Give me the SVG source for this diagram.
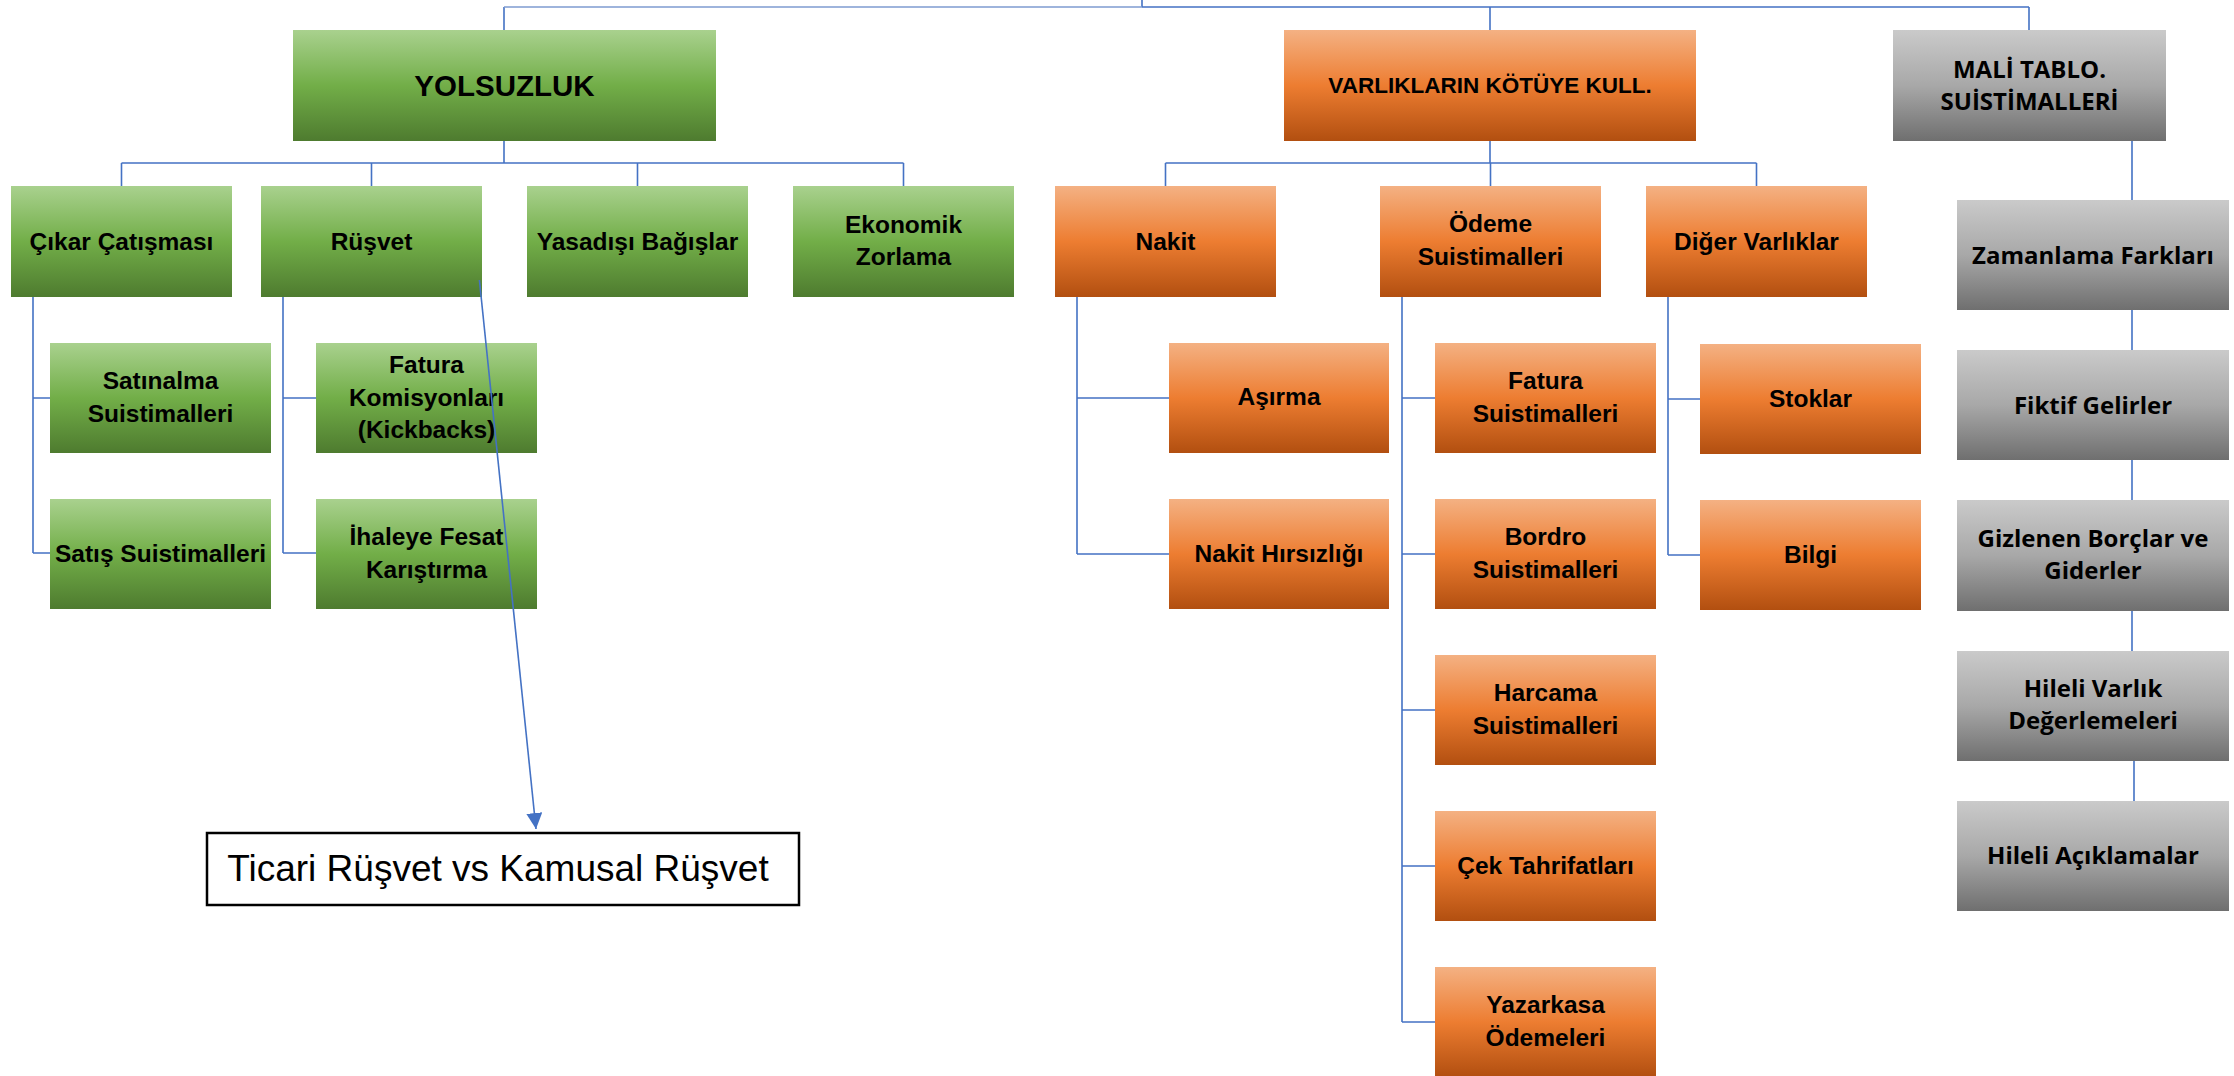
<svg xmlns="http://www.w3.org/2000/svg" width="2234" height="1076" viewBox="0 0 2234 1076">
<defs>
<linearGradient id="gGreen" x1="0" y1="0" x2="0" y2="1">
<stop offset="0" stop-color="#A9D18E"/><stop offset="0.5" stop-color="#72AE48"/><stop offset="1" stop-color="#4E7B2F"/>
</linearGradient>
<linearGradient id="gOrange" x1="0" y1="0" x2="0" y2="1">
<stop offset="0" stop-color="#F4B183"/><stop offset="0.5" stop-color="#ED7D31"/><stop offset="1" stop-color="#B24F10"/>
</linearGradient>
<linearGradient id="gGrey" x1="0" y1="0" x2="0" y2="1">
<stop offset="0" stop-color="#CACACA"/><stop offset="0.5" stop-color="#A8A8A8"/><stop offset="1" stop-color="#6F6F6F"/>
</linearGradient>
<marker id="arrowHead" markerUnits="userSpaceOnUse" markerWidth="18" markerHeight="16" refX="16" refY="8" orient="auto">
<path d="M0,0 L16,8 L0,16 Z" fill="#4472C4"/>
</marker>
<style>
.g{fill:url(#gGreen)}
.o{fill:url(#gOrange)}
.s{fill:url(#gGrey)}
.t{font-family:"Liberation Sans",Arial,sans-serif;font-weight:bold;font-size:24.5px;fill:#000;text-anchor:middle}
.tg{font-family:"Open Sans","Liberation Sans",sans-serif;font-weight:bold;font-size:24px;fill:#000;text-anchor:middle}
.c{fill:none;stroke:#4472C4;stroke-width:1.6}
</style>
</defs>
<rect width="2234" height="1076" fill="#fff"/>

<g id="nodes">
<g id="n-yolsuzluk"><rect class="g" x="293" y="30" width="423" height="111"/><text class="t" x="504.5" y="96" style="font-size:29.5px">YOLSUZLUK</text></g>
<g id="n-cikar"><rect class="g" x="11" y="186" width="221" height="111"/><text class="t" x="121.5" y="249.5">Çıkar Çatışması</text></g>
<g id="n-rusvet"><rect class="g" x="261" y="186" width="221" height="111"/><text class="t" x="371.5" y="249.5">Rüşvet</text></g>
<g id="n-yasadisi"><rect class="g" x="527" y="186" width="221" height="111"/><text class="t" x="637.5" y="249.5">Yasadışı Bağışlar</text></g>
<g id="n-ekonomik"><rect class="g" x="793" y="186" width="221" height="111"/><text class="t" x="903.5" y="233">Ekonomik</text><text class="t" x="903.5" y="265">Zorlama</text></g>
<g id="n-satinalma"><rect class="g" x="50" y="343" width="221" height="110"/><text class="t" x="160.5" y="389">Satınalma</text><text class="t" x="160.5" y="422">Suistimalleri</text></g>
<g id="n-satis"><rect class="g" x="50" y="499" width="221" height="110"/><text class="t" x="160.5" y="562">Satış Suistimalleri</text></g>
<g id="n-fatura-kom"><rect class="g" x="316" y="343" width="221" height="110"/><text class="t" x="426.5" y="373">Fatura</text><text class="t" x="426.5" y="406">Komisyonları</text><text class="t" x="426.5" y="438">(Kickbacks)</text></g>
<g id="n-ihaleye"><rect class="g" x="316" y="499" width="221" height="110"/><text class="t" x="426.5" y="545">İhaleye Fesat</text><text class="t" x="426.5" y="578">Karıştırma</text></g>

<g id="n-varlik"><rect class="o" x="1284" y="30" width="412" height="111"/><text class="t" x="1490" y="93" style="font-size:22.5px">VARLIKLARIN KÖTÜYE KULL.</text></g>
<g id="n-nakit"><rect class="o" x="1055" y="186" width="221" height="111"/><text class="t" x="1165.5" y="249.5">Nakit</text></g>
<g id="n-odeme"><rect class="o" x="1380" y="186" width="221" height="111"/><text class="t" x="1490.5" y="232">Ödeme</text><text class="t" x="1490.5" y="265">Suistimalleri</text></g>
<g id="n-diger"><rect class="o" x="1646" y="186" width="221" height="111"/><text class="t" x="1756.5" y="249.5">Diğer Varlıklar</text></g>
<g id="n-asirma"><rect class="o" x="1169" y="343" width="220" height="110"/><text class="t" x="1279" y="405">Aşırma</text></g>
<g id="n-nakit-hirsizligi"><rect class="o" x="1169" y="499" width="220" height="110"/><text class="t" x="1279" y="562">Nakit Hırsızlığı</text></g>
<g id="n-fatura-s"><rect class="o" x="1435" y="343" width="221" height="110"/><text class="t" x="1545.5" y="389">Fatura</text><text class="t" x="1545.5" y="422">Suistimalleri</text></g>
<g id="n-bordro"><rect class="o" x="1435" y="499" width="221" height="110"/><text class="t" x="1545.5" y="545">Bordro</text><text class="t" x="1545.5" y="578">Suistimalleri</text></g>
<g id="n-harcama"><rect class="o" x="1435" y="655" width="221" height="110"/><text class="t" x="1545.5" y="701">Harcama</text><text class="t" x="1545.5" y="734">Suistimalleri</text></g>
<g id="n-cek"><rect class="o" x="1435" y="811" width="221" height="110"/><text class="t" x="1545.5" y="874">Çek Tahrifatları</text></g>
<g id="n-yazarkasa"><rect class="o" x="1435" y="967" width="221" height="110"/><text class="t" x="1545.5" y="1013">Yazarkasa</text><text class="t" x="1545.5" y="1046">Ödemeleri</text></g>
<g id="n-stoklar"><rect class="o" x="1700" y="344" width="221" height="110"/><text class="t" x="1810.5" y="407">Stoklar</text></g>
<g id="n-bilgi"><rect class="o" x="1700" y="500" width="221" height="110"/><text class="t" x="1810.5" y="563">Bilgi</text></g>

<g id="n-mali"><rect class="s" x="1893" y="30" width="273" height="111"/><text class="tg" x="2029.5" y="78">MALİ TABLO.</text><text class="tg" x="2029.5" y="110">SUİSTİMALLERİ</text></g>
<g id="n-zamanlama"><rect class="s" x="1957" y="200" width="272" height="110"/><text class="tg" x="2093" y="264">Zamanlama Farkları</text></g>
<g id="n-fiktif"><rect class="s" x="1957" y="350" width="272" height="110"/><text class="tg" x="2093" y="414">Fiktif Gelirler</text></g>
<g id="n-gizlenen"><rect class="s" x="1957" y="500" width="272" height="111"/><text class="tg" x="2093" y="547">Gizlenen Borçlar ve</text><text class="tg" x="2093" y="579">Giderler</text></g>
<g id="n-hileli-varlik"><rect class="s" x="1957" y="651" width="272" height="110"/><text class="tg" x="2093" y="697">Hileli Varlık</text><text class="tg" x="2093" y="729">Değerlemeleri</text></g>
<g id="n-hileli-aciklama"><rect class="s" x="1957" y="801" width="272" height="110"/><text class="tg" x="2093" y="864">Hileli Açıklamalar</text></g>

<g id="n-ticari"><rect x="207" y="833" width="592" height="72" fill="#fff" stroke="#000" stroke-width="2.5"/><text x="498" y="881" style="font-family:'Liberation Sans',Arial,sans-serif;font-size:37px;text-anchor:middle;fill:#000">Ticari Rüşvet vs Kamusal Rüşvet</text></g>
</g>

<g id="connectors">
<path class="c" d="M1142,0 V7 M1142,7 H2029 M504,7 V30 M1490,7 V30 M2029,7 V30"/>
<path d="M504,7 H1142" fill="none" stroke="#7E9BD0" stroke-width="1.6"/>
<path class="c" d="M504,141 V163 M121.5,163 H903.5 M121.5,163 V186 M371.5,163 V186 M637.5,163 V186 M903.5,163 V186"/>
<path class="c" d="M33,297 V553 M33,398 H50 M33,553 H50 M283,297 V553 M283,398 H316 M283,553 H316"/>
<path class="c" d="M1490,141 V163 M1165.5,163 H1756.5 M1165.5,163 V186 M1490.5,163 V186 M1756.5,163 V186"/>
<path class="c" d="M1077,297 V554 M1077,398 H1169 M1077,554 H1169"/>
<path class="c" d="M1402,297 V1022 M1402,398 H1435 M1402,554 H1435 M1402,710 H1435 M1402,866 H1435 M1402,1022 H1435"/>
<path class="c" d="M1668,297 V555 M1668,399 H1700 M1668,555 H1700"/>
<path class="c" d="M2132,141 V200 M2132,310 V350 M2132,460 V500 M2132,611 V651 M2134,761 V801"/>
<line class="c" x1="479.4" y1="280" x2="536" y2="829" marker-end="url(#arrowHead)"/>
</g>
</svg>
